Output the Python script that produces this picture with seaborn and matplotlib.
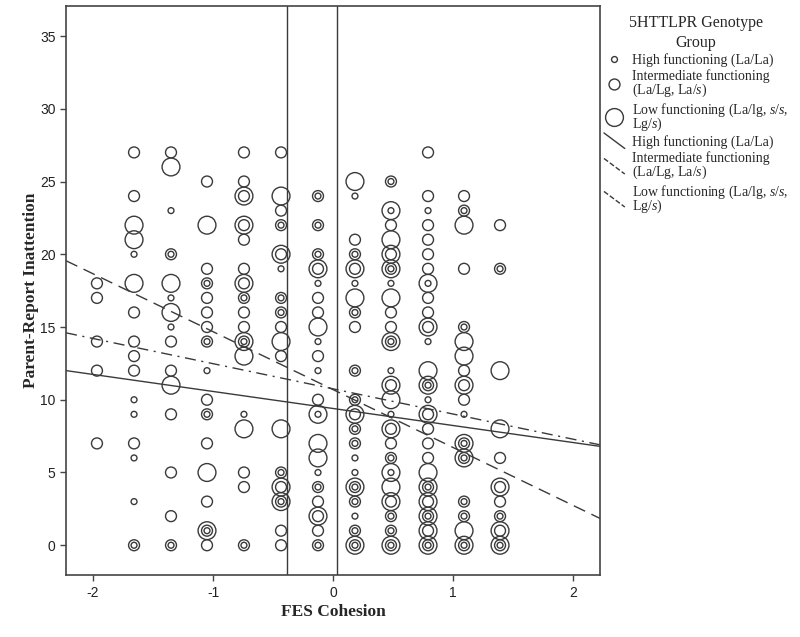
import matplotlib
matplotlib.use("Agg")
import matplotlib.pyplot as plt
import numpy as np
import pandas as pd
import seaborn as sns
from matplotlib.lines import Line2D
from matplotlib.legend_handler import HandlerBase

# FES Cohesion levels (one column of points per level)
x_levels = [-1.967, -1.658, -1.35, -1.05, -0.742, -0.433,
            -0.125, 0.183, 0.483, 0.792, 1.092, 1.392]

# Parent-report inattention per column, one list per genotype group
high_y = [
    [],
    [20, 10, 9, 6, 3, 0],
    [23, 20, 17, 15, 0],
    [18, 14, 12, 9, 1],
    [17, 14, 9, 0],
    [22, 19, 17, 16, 5, 3],
    [24, 22, 20, 18, 14, 12, 9, 5, 4, 0],
    [24, 20, 18, 16, 12, 10, 8, 7, 6, 5, 4, 3, 2, 1, 0],
    [25, 23, 19, 18, 14, 12, 9, 6, 5, 2, 1, 0],
    [23, 18, 14, 11, 10, 4, 2, 0],
    [23, 15, 9, 7, 6, 3, 2, 0],
    [19, 2, 0],
]
intermediate_y = [
    [18, 17, 14, 12, 7],
    [27, 24, 16, 14, 13, 12, 7, 0],
    [27, 20, 14, 12, 9, 5, 2, 0],
    [25, 19, 18, 17, 16, 15, 14, 10, 9, 7, 3, 1, 0],
    [27, 25, 24, 22, 21, 19, 18, 17, 16, 15, 14, 5, 4, 0],
    [27, 23, 22, 20, 17, 16, 15, 13, 5, 4, 3, 1, 0],
    [24, 22, 20, 19, 17, 16, 13, 10, 4, 3, 2, 1, 0],
    [21, 20, 19, 16, 15, 12, 10, 9, 8, 7, 4, 3, 1, 0],
    [25, 22, 20, 19, 16, 15, 14, 11, 8, 7, 6, 3, 2, 1, 0],
    [27, 24, 22, 21, 20, 19, 17, 16, 15, 11, 9, 8, 7, 6, 4, 3, 2, 1, 0],
    [24, 23, 19, 15, 12, 11, 10, 7, 6, 3, 2, 0],
    [22, 19, 6, 4, 3, 2, 1, 0],
]
low_y = [
    [],
    [22, 21, 18],
    [26, 18, 16, 11],
    [22, 5, 1],
    [24, 22, 18, 14, 13, 8],
    [24, 20, 14, 8, 4, 3],
    [19, 15, 9, 7, 6, 2],
    [25, 19, 17, 9, 4, 0],
    [23, 21, 20, 19, 17, 14, 11, 10, 8, 5, 4, 3, 0],
    [18, 15, 12, 11, 9, 5, 4, 3, 2, 1, 0],
    [22, 14, 13, 11, 7, 6, 1, 0],
    [12, 8, 4, 1, 0],
]

groups = ["High functioning (La/La)",
          "Intermediate functioning\n(La/Lg, La/$\\mathit{s}$)",
          "Low functioning (La/lg, $\\mathit{s/s}$,\nLg/$\\mathit{s}$)"]

# fitted lines per group: intercept, slope
fit_intercept = [9.4, 10.75, 10.7]
fit_slope = [-1.17, -1.73, -3.98]

# vertical reference lines on FES Cohesion
ref_x = [-0.385, 0.03]

rows = []
for g, per_col in zip(groups, [high_y, intermediate_y, low_y]):
    for xv, ys in zip(x_levels, per_col):
        for yv in ys:
            rows.append({"x": xv, "y": yv, "group": g})
df = pd.DataFrame(rows)

sns.set_style("white")
plt.rcParams["mathtext.fontset"] = "custom"
plt.rcParams["mathtext.rm"] = "Liberation Serif"
plt.rcParams["mathtext.it"] = "Liberation Serif:italic"
plt.rcParams["axes.unicode_minus"] = False

ink = "#3a3a3a"
marker_sizes = dict(zip(groups, [18, 62, 165]))

fig = plt.figure(figsize=(8, 6.37), dpi=100)
ax = fig.add_axes([0.0825, 0.097, 0.6675, 0.8935])

sns.scatterplot(
    data=df, x="x", y="y",
    size="group", sizes=marker_sizes,
    facecolors="none", edgecolor=ink, linewidth=1.0,
    legend=False, ax=ax
)

xlim = (-2.225, 2.225)
styles = ["-", (0, (8, 4, 1.5, 4)), (0, (9, 5))]
fx = np.array(xlim)
for a, b, ls in zip(fit_intercept, fit_slope, styles):
    ax.plot(fx, a + b * fx, color=ink, lw=1.0, linestyle=ls)

for xv in ref_x:
    ax.axvline(xv, color=ink, lw=1.0)

ax.set_xlim(*xlim)
ax.set_ylim(-2.06, 37.06)
ax.set_xticks([-2, -1, 0, 1, 2])
ax.set_yticks(range(0, 36, 5))
ax.tick_params(axis="both", direction="out", length=4, width=1,
               color="#444444", labelsize=10, labelcolor="#222222", left=True, bottom=True)
for lab in ax.get_xticklabels() + ax.get_yticklabels():
    lab.set_family("Liberation Sans")
for sp in ax.spines.values():
    sp.set_color("#444444")
    sp.set_linewidth(1.2)

ax.set_xlabel("FES Cohesion", family="Liberation Serif", fontsize=12.5,
              fontweight="bold", labelpad=3)
ax.set_ylabel("Parent-Report Inattention", family="Liberation Serif", fontsize=12.5,
              fontweight="bold", labelpad=1)


class DiagonalLine(HandlerBase):
    def create_artists(self, legend, orig, xd, yd, width, height, fontsize, trans):
        line = Line2D([-xd, -xd + width], [-yd + height * 1.3, -yd - height * 0.3],
                      color=orig.get_color(), lw=1.0, linestyle=orig.get_linestyle(),
                      transform=trans)
        return [line]


handles = []
for g in groups:
    handles.append(Line2D([], [], marker="o", linestyle="none", markerfacecolor="none",
                          markeredgecolor=ink, markeredgewidth=1.0,
                          markersize=np.sqrt(marker_sizes[g])))
line_handles = [Line2D([], [], color=ink, linestyle=ls) for ls in styles]
handles += line_handles

leg = fig.legend(
    handles, groups + groups,
    handler_map={h: DiagonalLine() for h in line_handles},
    loc="upper left", bbox_to_anchor=(0.748, 0.985),
    frameon=False, title="5HTTLPR Genotype\nGroup", alignment="center",
    prop={"family": "Liberation Serif", "size": 10},
    title_fontproperties={"family": "Liberation Serif", "size": 11.5},
    handlelength=1.5, handletextpad=0.5, labelspacing=0.15, borderaxespad=0
)
leg.get_title().set_multialignment("center")
leg.get_title().set_linespacing(1.3)
for t in leg.get_texts():
    t.set_linespacing(0.72 if "Low" in t.get_text() else 0.95)

fig.savefig("out.png", dpi=100)
plt.close()
